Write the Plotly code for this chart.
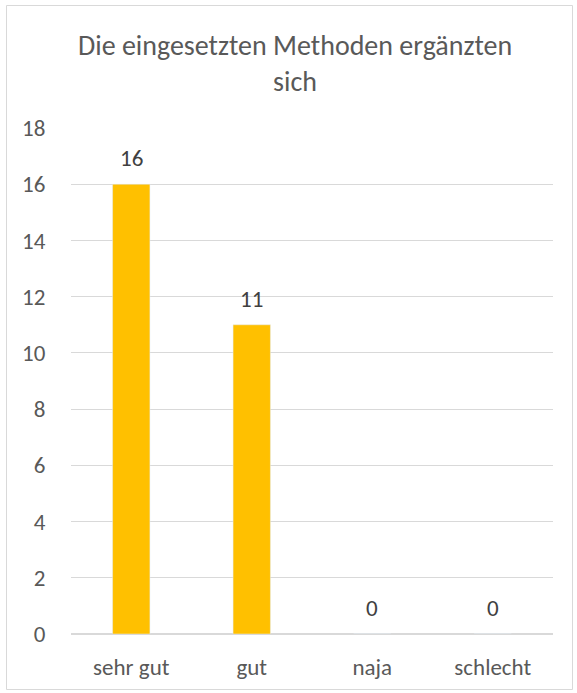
import plotly.graph_objects as go

categories = ["sehr gut", "gut", "naja", "schlecht"]
values = [16, 11, 0, 0]
y_ticks = [0, 2, 4, 6, 8, 10, 12, 14, 16, 18]
title_lines = ["Die eingesetzten Methoden ergänzten", "sich"]

W, H = 577, 693
L, R, T, B = 71, 24, 128, 59
pw, ph = W - L - R, H - T - B

def px_x(p):
    return (p - L) / pw

def px_y(p):
    return (H - B - p) / ph

font_family = "Carlito, Calibri, 'Open Sans', sans-serif"

fig = go.Figure(go.Bar(
    x=categories, y=values,
    marker_color="#FFC000",
    cliponaxis=False,
))

annotations = []
for cat, v in zip(categories, values):
    annotations.append(dict(x=cat, y=v, xref="x", yref="y", text=str(v), showarrow=False,
                            yanchor="middle", yshift=26,
                            font=dict(size=23, color="#404040", family=font_family)))
for i, line in enumerate(title_lines):
    annotations.append(dict(x=px_x(295), y=px_y(45 + 36 * i), xref="paper", yref="paper",
                            text=line, showarrow=False, xanchor="center", yanchor="middle",
                            font=dict(size=28, color="#595959", family=font_family)))

fig.update_layout(
    width=W, height=H,
    margin=dict(l=L, r=R, t=T, b=B),
    paper_bgcolor="white", plot_bgcolor="white",
    bargap=0.69,
    showlegend=False,
    font=dict(family=font_family, color="#595959"),
    annotations=annotations,
    xaxis=dict(showgrid=False, showline=False, zeroline=False,
               tickfont=dict(size=23, color="#595959"),
               ticks="outside", ticklen=12, tickcolor="rgba(0,0,0,0)"),
    yaxis=dict(range=[0, 18], tickvals=y_ticks, showgrid=True, gridcolor="#d9d9d9", gridwidth=1,
               zeroline=True, zerolinecolor="#d9d9d9", zerolinewidth=1.5, showline=False,
               tickfont=dict(size=23, color="#595959"),
               ticks="outside", ticklen=20, tickcolor="rgba(0,0,0,0)"),
    shapes=[dict(type="rect", xref="paper", yref="paper",
                 x0=px_x(6.5), x1=px_x(572.5), y0=px_y(689.5), y1=px_y(5.5),
                 line=dict(color="#d9d9d9", width=1), fillcolor="rgba(0,0,0,0)", layer="below")],
)

fig.write_html("out.html")
